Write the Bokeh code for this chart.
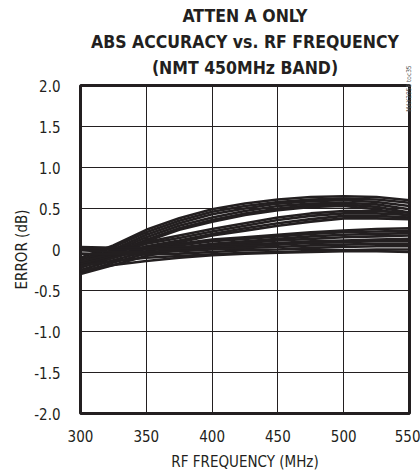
import math
from bokeh.plotting import figure
from bokeh.models import FixedTicker, Range1d, LinearAxis
from bokeh.embed import file_html
from bokeh.resources import INLINE

freq = [300, 325, 350, 375, 400, 425, 450, 475, 500, 525, 550]

band_a = [
    [-0.10, 0.05, 0.24, 0.38, 0.49, 0.56, 0.61, 0.64, 0.65, 0.64, 0.60],
    [-0.13, 0.03, 0.21, 0.35, 0.46, 0.53, 0.58, 0.61, 0.62, 0.61, 0.57],
    [-0.16, 0.00, 0.18, 0.32, 0.43, 0.50, 0.56, 0.59, 0.60, 0.58, 0.53],
    [-0.18, -0.02, 0.15, 0.29, 0.39, 0.47, 0.53, 0.56, 0.57, 0.55, 0.49],
    [-0.20, -0.04, 0.12, 0.26, 0.36, 0.44, 0.50, 0.54, 0.55, 0.52, 0.45],
    [-0.22, -0.06, 0.10, 0.24, 0.34, 0.42, 0.48, 0.52, 0.53, 0.49, 0.41],
]
band_b = [
    [-0.12, -0.02, 0.09, 0.17, 0.25, 0.32, 0.39, 0.44, 0.47, 0.47, 0.45],
    [-0.15, -0.05, 0.07, 0.14, 0.22, 0.29, 0.36, 0.41, 0.44, 0.44, 0.42],
    [-0.18, -0.08, 0.04, 0.11, 0.19, 0.26, 0.32, 0.37, 0.41, 0.41, 0.39],
    [-0.20, -0.10, 0.02, 0.09, 0.17, 0.23, 0.29, 0.34, 0.38, 0.38, 0.37],
]
band_c = [
    [-0.22, -0.10, 0.01, 0.07, 0.12, 0.15, 0.18, 0.21, 0.23, 0.25, 0.26],
    [-0.25, -0.13, -0.02, 0.05, 0.10, 0.13, 0.16, 0.19, 0.21, 0.22, 0.23],
    [-0.28, -0.16, -0.05, 0.02, 0.07, 0.10, 0.13, 0.16, 0.18, 0.19, 0.20],
    [-0.30, -0.19, -0.08, 0.00, 0.05, 0.08, 0.11, 0.13, 0.15, 0.16, 0.17],
]
band_d = [
    [0.03, 0.02, 0.02, 0.03, 0.04, 0.06, 0.08, 0.10, 0.11, 0.12, 0.13],
    [0.01, 0.00, 0.00, 0.01, 0.02, 0.04, 0.06, 0.08, 0.09, 0.10, 0.10],
    [-0.01, -0.03, -0.03, -0.02, 0.00, 0.02, 0.03, 0.05, 0.06, 0.07, 0.07],
    [-0.05, -0.06, -0.06, -0.05, -0.03, -0.01, 0.00, 0.02, 0.03, 0.04, 0.04],
    [-0.20, -0.14, -0.10, -0.08, -0.06, -0.04, -0.03, -0.02, -0.01, 0.00, 0.00],
    [-0.26, -0.19, -0.14, -0.10, -0.07, -0.05, -0.04, -0.03, -0.02, -0.02, -0.03],
]

x_ticks = [300, 350, 400, 450, 500, 550]
y_ticks = [2.0, 1.5, 1.0, 0.5, 0.0, -0.5, -1.0, -1.5, -2.0]
y_tick_labels = ["2.0", "1.5", "1.0", "0.5", "0", "-0.5", "-1.0", "-1.5", "-2.0"]

title_lines = ["ATTEN A ONLY", "ABS ACCURACY vs. RF FREQUENCY", "(NMT 450MHz BAND)"]
title_at = 425
x_label = "RF FREQUENCY (MHz)"
y_label = "ERROR (dB)"
note = "MAX2058 toc35"
note_at = 1.68

FONT = "Liberation Sans Narrow, DejaVu Sans Condensed, Liberation Sans, sans-serif"
INK = "#231f20"

p = figure(width=420, height=473, output_backend="svg", toolbar_location=None,
           x_range=Range1d(300, 550), y_range=Range1d(-2.0, 2.0),
           min_border_left=80, min_border_right=11, min_border_top=85, min_border_bottom=60)
p.background_fill_color = "white"
p.border_fill_color = "white"
p.outline_line_color = INK
p.outline_line_width = 3

for band in (band_a, band_b, band_c, band_d):
    for ys in band:
        p.line(freq, ys, line_color=INK, line_width=2.6)

p.xaxis.ticker = FixedTicker(ticks=x_ticks)
p.yaxis.ticker = FixedTicker(ticks=y_ticks)
p.yaxis.major_label_overrides = {v: s for v, s in zip(y_ticks, y_tick_labels)}
for ax in (p.xaxis[0], p.yaxis[0]):
    ax.axis_line_color = None
    ax.major_tick_line_color = None
    ax.minor_tick_line_color = None
    ax.major_label_text_font = FONT
    ax.major_label_text_font_size = "15px"
    ax.major_label_text_color = INK
    ax.axis_label_text_font = FONT
    ax.axis_label_text_font_size = "15px"
    ax.axis_label_text_font_style = "normal"
    ax.axis_label_text_color = INK
p.xaxis.axis_label = x_label
p.yaxis.axis_label = y_label
p.xaxis.major_label_standoff = 10
p.xaxis.axis_label_standoff = 8
p.yaxis.major_label_standoff = 14
p.yaxis.axis_label_standoff = 0

p.grid.grid_line_color = INK
p.grid.grid_line_width = 1
p.grid.grid_line_alpha = 1
p.xgrid.ticker = FixedTicker(ticks=x_ticks)
p.ygrid.ticker = FixedTicker(ticks=y_ticks)

# heading: three lines, each a single centred label of its own axis above the plot
# (axes added "above" stack outward: nearest line first)
for line, so in zip(reversed(title_lines), [8, 3, 3]):
    head = LinearAxis(ticker=FixedTicker(ticks=[title_at]),
                      major_label_overrides={title_at: line},
                      axis_line_color=None, major_tick_line_color=None,
                      minor_tick_line_color=None, major_tick_out=0, major_tick_in=0,
                      major_label_standoff=so,
                      major_label_text_font=FONT, major_label_text_font_size="17.5px",
                      major_label_text_font_style="bold", major_label_text_color=INK)
    p.add_layout(head, "above")

# small vertical note on the right edge, as a single rotated tick label
note_axis = LinearAxis(ticker=FixedTicker(ticks=[note_at]),
                       major_label_overrides={note_at: note},
                       major_label_orientation=math.pi / 2,
                       axis_line_color=None, major_tick_line_color=None,
                       minor_tick_line_color=None, major_tick_out=0, major_tick_in=0,
                       major_label_standoff=0,
                       major_label_text_font=FONT, major_label_text_font_size="6.5px",
                       major_label_text_color="#555555")
p.add_layout(note_axis, "right")

open("out.html", "w").write(file_html(p, INLINE))
